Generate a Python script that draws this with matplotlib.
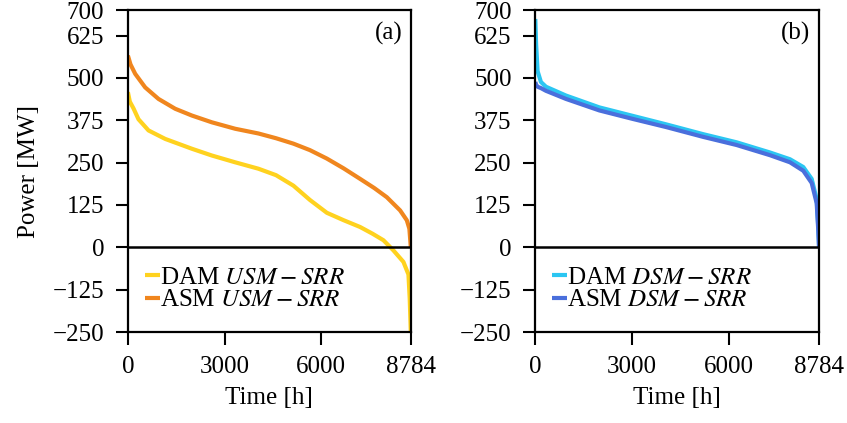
import numpy as np
import matplotlib
matplotlib.use("Agg")
import matplotlib.pyplot as plt

plt.rcParams['font.family'] = ['Liberation Serif', 'DejaVu Serif']
plt.rcParams['mathtext.fontset'] = 'stix'
plt.rcParams['font.size'] = 18

# duration curves (hours, MW)
dam_usm_t = [0, 60, 174, 329, 640, 1158, 1986, 2607, 3330, 4054, 4600, 5140, 5650, 6177, 6700, 7211, 7600, 7934, 8244, 8555, 8711, 8750, 8784]
dam_usm_p = [458, 430, 410, 378, 345, 320, 291, 271, 251, 232, 213, 182, 140, 102, 80, 60, 40, 21, -9, -43, -80, -150, -250]

asm_usm_t = [0, 80, 227, 537, 950, 1468, 1986, 2607, 3330, 4054, 4600, 5140, 5650, 6177, 6700, 7211, 7650, 8039, 8452, 8660, 8740, 8784]
asm_usm_p = [566, 540, 512, 472, 438, 409, 389, 369, 350, 336, 322, 306, 287, 262, 233, 202, 175, 148, 109, 80, 55, 0]

dam_dsm_t = [0, 25, 71, 174, 329, 949, 1984, 3016, 4049, 5196, 6231, 7263, 7884, 8296, 8556, 8711, 8760, 8784]
dam_dsm_p = [674, 600, 520, 488, 474, 448, 413, 388, 363, 334, 310, 280, 260, 237, 202, 142, 60, 0]

asm_dsm_t = [0, 25, 71, 174, 329, 949, 1984, 3016, 4049, 5196, 6231, 7263, 7884, 8296, 8556, 8711, 8760, 8784]
asm_dsm_p = [488, 480, 474, 470, 462, 438, 404, 379, 355, 326, 302, 272, 251, 226, 190, 130, 50, 0]

yticks = [-250, -125, 0, 125, 250, 375, 500, 625, 700]
xticks = [0, 3000, 6000, 8784]

fig = plt.figure(figsize=(8.47, 4.23), dpi=100)
ax1 = fig.add_axes([0.151, 0.215, 0.334, 0.761])
ax2 = fig.add_axes([0.632, 0.215, 0.335, 0.761])

panels = [
    (ax1, "(a)", [(dam_usm_t, dam_usm_p, "#FFD21F", r"DAM $USM-SRR$"),
                  (asm_usm_t, asm_usm_p, "#F0861E", r"ASM $USM-SRR$")]),
    (ax2, "(b)", [(dam_dsm_t, dam_dsm_p, "#2BC6F2", r"DAM $DSM-SRR$"),
                  (asm_dsm_t, asm_dsm_p, "#4A6FDC", r"ASM $DSM-SRR$")]),
]

for ax, tag, series in panels:
    for t, p, c, lab in series:
        ax.plot(t, p, color=c, lw=3, label=lab, solid_capstyle='butt')
    ax.axhline(0, color='black', lw=1.8, zorder=3)
    ax.set_xlim(0, 8784)
    ax.set_ylim(-250, 700)
    ax.set_xticks(xticks)
    ax.set_yticks(yticks)
    ax.tick_params(direction='out', length=9, width=1.5, pad=8)
    for s in ax.spines.values():
        s.set_linewidth(1.6)
    ax.set_xlabel("Time [h]", labelpad=7)
    ax.text(0.97, 0.965, tag, transform=ax.transAxes, ha='right', va='top')
    ax.legend(loc='upper left', bbox_to_anchor=(0.025, 0.235), frameon=False,
              handlelength=0.6, handletextpad=0.0, borderaxespad=0.0,
              labelspacing=0.0)

ax1.set_ylabel("Power [MW]", labelpad=9)

fig.savefig("out.png", dpi=100)
